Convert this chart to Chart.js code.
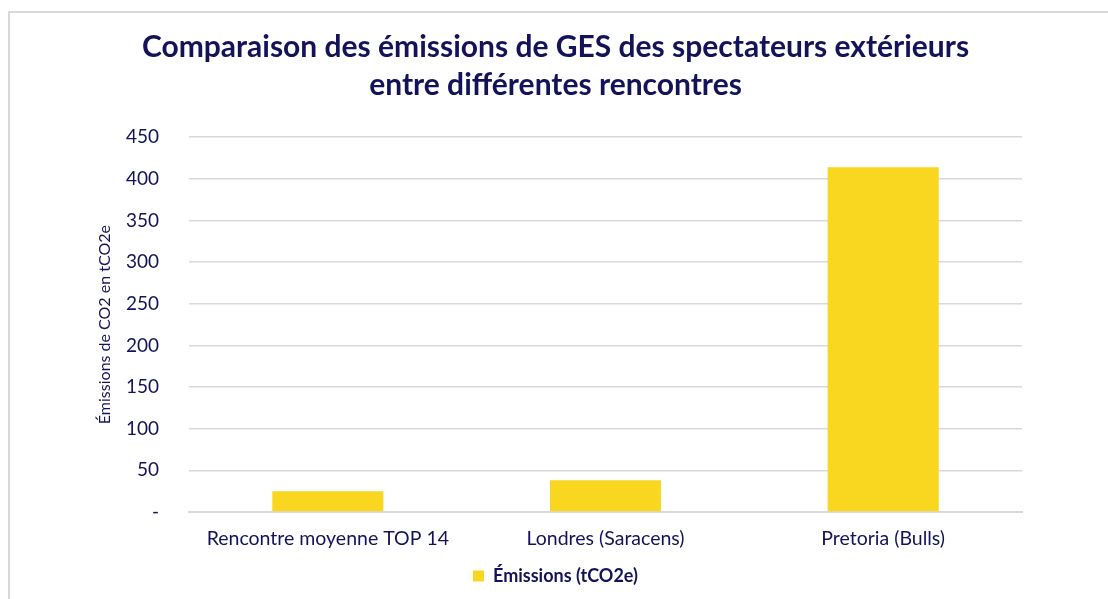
<!DOCTYPE html>
<html>
<head>
<meta charset="utf-8">
<script src="https://cdn.jsdelivr.net/npm/chart.js@4/dist/chart.umd.min.js"></script>
<style>
    html, body { margin: 0; padding: 0; background: #fff; }
    #wrap { position: relative; width: 1108px; height: 599px; overflow: hidden; }
    #frame { position: absolute; left: 8px; top: 11px; width: 1200px; height: 700px; border: 2px solid #d9d9d9; pointer-events: none; }
    canvas { position: absolute; left: 0; top: 0; }
</style>
</head>
<body>
<div id="wrap">
    <canvas id="chart" width="1108" height="599"></canvas>
    <div id="frame"></div>
</div>
<script>
// Data
const categories = ['Rencontre moyenne TOP 14', 'Londres (Saracens)', 'Pretoria (Bulls)'];
const emissions = [25, 38, 414];
const seriesLabel = 'Émissions (tCO2e)';
const titleLines = ['Comparaison des émissions de GES des spectateurs extérieurs', 'entre différentes rencontres'];
const yAxisTitle = 'Émissions de CO2 en tCO2e';
const yMax = 450;
const yStep = 50;

const NAVY = '#14135a';
const GRID = '#d9d9d9';
const YELLOW = '#f9d61f';
const FONT = 'Lato, "Open Sans", sans-serif';

const ctx = document.getElementById('chart').getContext('2d');
new Chart(ctx, {
    type: 'bar',
    data: {
        labels: categories,
        datasets: [{
            label: seriesLabel,
            data: emissions,
            backgroundColor: YELLOW,
            borderWidth: 0,
            categoryPercentage: 1,
            barPercentage: 0.4,
        }]
    },
    options: {
        responsive: false,
        animation: false,
        layout: { padding: { left: 89, right: 86, top: 12, bottom: 4 } },
        plugins: {
            title: {
                display: true,
                text: titleLines,
                color: NAVY,
                font: { family: FONT, size: 30, weight: 'bold', lineHeight: 1.27 },
                padding: { top: 16, bottom: 33 },
            },
            legend: {
                position: 'bottom',
                labels: {
                    color: NAVY,
                    font: { family: FONT, size: 18, weight: 'bold' },
                    boxWidth: 11,
                    boxHeight: 11,
                    padding: 10,
                },
            },
            tooltip: { enabled: false },
        },
        scales: {
            x: {
                grid: { display: false, drawTicks: false },
                border: { color: GRID, width: 2 },
                ticks: { color: NAVY, font: { family: FONT, size: 19.5 }, padding: 15, maxRotation: 0 },
                afterFit: (scale) => { scale.height = 45; },
            },
            y: {
                min: 0,
                max: yMax,
                grid: { color: GRID, lineWidth: 1.5, drawTicks: false },
                border: { display: false },
                ticks: {
                    stepSize: yStep,
                    color: NAVY,
                    font: { family: FONT, size: 19 },
                    padding: 30,
                    callback: (v) => v === 0 ? '-' : v,
                },
                title: {
                    display: true,
                    text: yAxisTitle,
                    color: NAVY,
                    font: { family: FONT, size: 16 },
                    padding: { top: 6, bottom: 0 },
                },
                afterFit: (scale) => { scale.width = 100; },
            },
        },
    },
});
</script>
</body>
</html>
